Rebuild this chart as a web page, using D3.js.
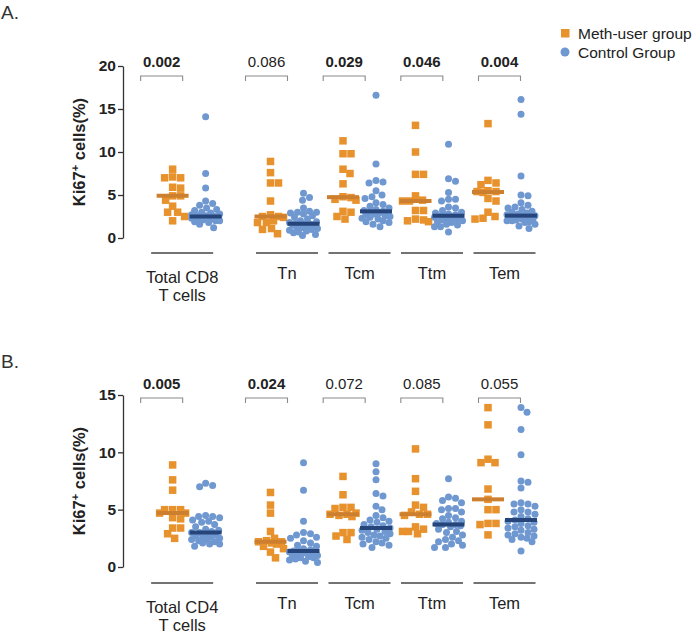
<!DOCTYPE html>
<html>
<head>
<meta charset="utf-8">
<script src="https://cdn.jsdelivr.net/npm/d3@7"></script>
<style>
  html, body { margin: 0; padding: 0; background: #fff; }
  svg { display: block; font-family: "Liberation Sans", Arial, Helvetica, sans-serif; }
</style>
</head>
<body>
<svg id="chart" width="700" height="633"></svg>
<script>
// ---------------- DATA ----------------
const subsetsA = ["Total CD8|T cells", "Tn", "Tcm", "Ttm", "Tem"];
const subsetsB = ["Total CD4|T cells", "Tn", "Tcm", "Ttm", "Tem"];
const seriesNames = ["Meth-user group", "Control Group"];
const pValuesA = ["0.002", "0.086", "0.029", "0.046", "0.004"];
const pValuesB = ["0.005", "0.024", "0.072", "0.085", "0.055"];
const ticksA = [0, 5, 10, 15, 20];
const ticksB = [0, 5, 10, 15];
const yTitle = "Ki67";

// Panel A – Meth-user group (CD8)
const methA_Total = [8.0, 7.1, 7.0, 7.0, 5.9, 5.8, 4.9, 4.9, 4.4, 3.7, 3.0, 3.0, 2.5, 2.0];
const methA_Tn    = [8.9, 7.6, 6.4, 6.4, 4.3, 2.7, 2.5, 2.5, 2.4, 2.0, 1.8, 1.8, 1.1, 1.0, 0.5];
const methA_Tcm   = [11.3, 9.8, 9.8, 8.0, 7.5, 6.3, 4.8, 4.7, 4.5, 4.4, 3.1, 3.0, 2.5, 2.2];
const methA_Ttm   = [13.1, 10.0, 7.4, 7.4, 4.9, 4.4, 4.3, 4.3, 3.2, 3.2, 2.2, 2.1, 2.0, 1.9];
const methA_Tem   = [13.3, 6.7, 6.4, 6.2, 5.5, 5.4, 5.4, 5.3, 4.6, 4.3, 3.0, 2.5, 2.3, 2.2];
// Panel A – Control group (CD8)
const ctrlA_Total = [14.1, 7.5, 5.8, 4.3, 4.0, 3.8, 3.5, 3.3, 3.2, 3.0, 2.9, 2.8, 2.7, 2.6, 2.6, 2.5,
                     2.5, 2.5, 2.4, 2.4, 2.3, 2.3, 2.2, 2.2, 2.1, 2.0, 2.0, 1.9, 1.8, 1.6, 1.2];
const ctrlA_Tn    = [5.2, 4.7, 4.4, 3.5, 3.1, 3.0, 3.0, 2.9, 2.8, 2.6, 2.4, 2.2, 2.0, 1.9, 1.8, 1.7,
                     1.6, 1.6, 1.6, 1.5, 1.5, 1.4, 1.3, 1.2, 1.1, 1.0, 0.9, 0.8, 0.7, 0.6, 0.4, 0.3];
const ctrlA_Tcm   = [16.6, 8.6, 6.7, 6.5, 6.4, 5.5, 5.0, 4.8, 4.6, 4.1, 3.9, 3.7, 3.5, 3.3, 3.2, 3.1,
                     3.0, 3.0, 2.9, 2.8, 2.7, 2.6, 2.5, 2.4, 2.3, 2.2, 2.0, 1.9, 1.8, 1.6, 1.3];
const ctrlA_Ttm   = [10.9, 6.9, 6.6, 5.3, 4.5, 4.5, 4.3, 3.6, 3.5, 3.2, 3.0, 2.9, 2.8, 2.7, 2.6, 2.6,
                     2.5, 2.5, 2.4, 2.3, 2.2, 2.1, 2.0, 1.9, 1.8, 1.6, 1.5, 1.3, 1.3, 0.7];
const ctrlA_Tem   = [16.1, 14.4, 7.2, 5.0, 4.9, 4.1, 3.8, 3.6, 3.5, 3.3, 3.1, 3.0, 2.9, 2.8, 2.7, 2.6,
                     2.6, 2.5, 2.5, 2.4, 2.4, 2.3, 2.2, 2.2, 2.1, 2.0, 2.0, 1.9, 1.8, 1.6, 1.4, 1.1];

// Panel B – Meth-user group (CD4)
const methB_Total = [8.9, 7.6, 6.7, 5.0, 5.0, 5.0, 4.7, 4.7, 4.3, 4.2, 3.4, 3.4, 2.9, 2.5];
const methB_Tn    = [6.5, 5.4, 4.7, 3.1, 2.5, 2.3, 2.2, 2.2, 2.1, 2.0, 1.8, 1.6, 1.3, 0.8];
const methB_Tcm   = [7.9, 6.3, 5.2, 5.2, 5.1, 4.7, 4.6, 4.6, 4.5, 4.4, 3.0, 3.0, 2.7, 2.4];
const methB_Ttm   = [10.3, 7.7, 6.6, 5.4, 5.2, 4.8, 4.6, 4.6, 4.5, 3.5, 3.3, 3.1, 3.1, 2.9];
const methB_Tem   = [13.9, 12.4, 9.4, 9.1, 9.1, 6.8, 5.9, 5.0, 5.0, 3.8, 3.8, 3.7, 2.8];
// Panel B – Control group (CD4)
const ctrlB_Total = [7.3, 7.1, 7.0, 4.5, 4.4, 4.4, 4.3, 4.1, 4.0, 3.9, 3.7, 3.5, 3.3, 3.2, 3.1, 3.0,
                     3.0, 2.9, 2.8, 2.7, 2.6, 2.6, 2.5, 2.4, 2.4, 2.3, 2.2, 2.1, 2.0, 2.0, 1.8];
const ctrlB_Tn    = [9.1, 6.7, 4.0, 3.0, 2.9, 2.8, 2.6, 2.5, 2.3, 2.1, 1.9, 1.8, 1.6, 1.5, 1.4, 1.4,
                     1.4, 1.3, 1.3, 1.2, 1.2, 1.1, 1.0, 1.0, 0.9, 0.8, 0.8, 0.7, 0.6, 0.5, 0.4];
const ctrlB_Tcm   = [9.0, 8.3, 7.6, 6.4, 6.2, 5.3, 5.0, 4.5, 4.3, 4.1, 4.0, 3.9, 3.7, 3.6, 3.5, 3.4,
                     3.3, 3.2, 3.1, 3.0, 2.9, 2.8, 2.7, 2.6, 2.5, 2.4, 2.2, 2.1, 2.0, 1.9, 1.7];
const ctrlB_Ttm   = [7.7, 6.1, 6.0, 5.8, 5.6, 5.1, 5.1, 5.0, 4.8, 4.5, 4.3, 4.2, 4.0, 3.9, 3.8, 3.7,
                     3.7, 3.6, 3.5, 3.3, 3.1, 3.0, 2.8, 2.6, 2.4, 2.3, 2.2, 2.0, 1.9, 1.7, 1.7];
const ctrlB_Tem   = [13.9, 13.5, 12.0, 9.8, 7.5, 7.4, 6.9, 5.6, 5.5, 5.5, 5.3, 5.0, 4.8, 4.8, 4.6, 4.4,
                     4.2, 4.1, 4.0, 3.9, 3.8, 3.6, 3.5, 3.4, 3.3, 3.2, 3.0, 2.9, 2.8, 2.7, 2.6, 2.5,
                     2.4, 2.2, 1.4];

const methA = [methA_Total, methA_Tn, methA_Tcm, methA_Ttm, methA_Tem];
const ctrlA = [ctrlA_Total, ctrlA_Tn, ctrlA_Tcm, ctrlA_Ttm, ctrlA_Tem];
const methB = [methB_Total, methB_Tn, methB_Tcm, methB_Ttm, methB_Tem];
const ctrlB = [ctrlB_Total, ctrlB_Tn, ctrlB_Tcm, ctrlB_Ttm, ctrlB_Tem];

// ---------------- STYLE / LAYOUT ----------------
const COL = {
  meth: "#E8922E", methMed: "#CC7F2E",
  ctrl: "#6F97D0", ctrlMed: "#26457A",
  axis: "#333", text: "#222", bracket: "#8a8a8a", underline: "#444"
};
const svg = d3.select("#chart");

// slot index for each subset (extra gap after "Total")
const slots = [0, 1.35, 2.35, 3.35, 4.35];
const xPair = d3.scaleLinear().domain([1.35, 4.35]).range([287, 504.5]);
const xBracket = d3.scaleLinear().domain([1.35, 4.35]).range([266.5, 499.5]);
const labelShift = [-7, 0, 0, 0, 0];
const colOffset = 16.5;

function swarm(vals, cx, y, diam, half) {
  const pts = vals.map(v => ({ v, y: y(v) })).sort((a, b) => a.y - b.y);
  const placed = [];
  const cands = [0];
  for (let k = 1; k <= half; k++) { cands.push(k, -k); }
  for (const p of pts) {
    let best = 0, bestScore = -Infinity;
    for (const off of cands) {
      let md = Infinity;
      for (const q of placed) {
        const d = Math.hypot(q.x - (cx + off), q.y - p.y);
        if (d < md) md = d;
      }
      if (md >= diam) { best = off; bestScore = Infinity; break; }
      if (md > bestScore) { bestScore = md; best = off; }
    }
    p.x = cx + best;
    placed.push(p);
  }
  return placed;
}

function drawPanel(cfg) {
  const g = svg.append("g");
  const y = d3.scaleLinear().domain([0, cfg.ymax]).range([cfg.y0, cfg.y1]);

  // y axis
  const ax = g.append("g").attr("transform", `translate(${cfg.axisX},0)`)
    .call(d3.axisLeft(y).tickValues(cfg.ticks).tickSize(5).tickSizeOuter(0).tickPadding(2));
  ax.select(".domain").attr("stroke", COL.axis).attr("stroke-width", 1.3);
  ax.selectAll(".tick line").attr("stroke", COL.axis).attr("stroke-width", 1.3);
  ax.selectAll(".tick text").attr("fill", COL.text).attr("font-size", 15.5)
    .attr("font-weight", "bold").attr("font-family", "Liberation Sans, Arial, sans-serif");

  // y title
  const tt = g.append("text")
    .attr("transform", `translate(${cfg.titleX},${(cfg.y0 + cfg.y1) / 2}) rotate(-90)`)
    .attr("text-anchor", "middle").attr("font-size", 16.5).attr("font-weight", "bold")
    .attr("fill", COL.text);
  tt.append("tspan").text(yTitle);
  tt.append("tspan").text("+").attr("font-size", 11).attr("dy", -6);
  tt.append("tspan").text(" cells(%)").attr("font-size", 16.5).attr("dy", 6);

  // panel letter
  g.append("text").attr("x", 1).attr("y", cfg.letterY).text(cfg.letter)
    .attr("font-size", 19).attr("fill", "#333");

  cfg.subsets.forEach((name, i) => {
    const cx = xPair(slots[i]);
    const xm = cx - colOffset, xc = cx + colOffset;

    // bracket and p value
    const bx = xBracket(slots[i]);
    const bw = 21;
    g.append("path")
      .attr("d", `M${bx - bw},${cfg.bracketY + 5}V${cfg.bracketY}H${bx + bw}V${cfg.bracketY + 5}`)
      .attr("fill", "none").attr("stroke", COL.bracket).attr("stroke-width", 1.1);
    const pv = cfg.pvals[i];
    g.append("text").attr("x", bx).attr("y", cfg.bracketY - 9)
      .attr("text-anchor", "middle").attr("font-size", 15)
      .attr("font-weight", (+pv < 0.05) ? "bold" : "normal")
      .attr("fill", COL.text).text(pv);

    // underline and label
    const lx = cx + labelShift[i];
    g.append("line").attr("x1", lx - 31).attr("x2", lx + 31)
      .attr("y1", cfg.underY).attr("y2", cfg.underY)
      .attr("stroke", COL.underline).attr("stroke-width", 1.3);
    const lines = name.split("|");
    lines.forEach((ln, j) => {
      g.append("text").attr("x", lx)
        .attr("y", cfg.underY + (lines.length > 1 ? 29.5 : 26) + j * 18.5)
        .attr("text-anchor", "middle").attr("font-size", 16.5).attr("fill", COL.text).text(ln);
    });

    // meth-user squares
    const sq = 7.5;
    const mp = swarm(cfg.meth[i], xm, y, 7.6, 13);
    g.selectAll(null).data(mp).enter().append("rect")
      .attr("x", d => d.x - sq / 2).attr("y", d => d.y - sq / 2)
      .attr("width", sq).attr("height", sq).attr("fill", COL.meth);
    const mMed = d3.median(cfg.meth[i]);
    g.append("line").attr("x1", xm - 16).attr("x2", xm + 16)
      .attr("y1", y(mMed)).attr("y2", y(mMed))
      .attr("stroke", COL.methMed).attr("stroke-width", 4);

    // control circles
    const cp = swarm(cfg.ctrl[i], xc, y, 6.8, 14);
    g.selectAll(null).data(cp).enter().append("circle")
      .attr("cx", d => d.x).attr("cy", d => d.y).attr("r", 3.5).attr("fill", COL.ctrl);
    const cMed = d3.median(cfg.ctrl[i]);
    g.append("line").attr("x1", xc - 16).attr("x2", xc + 16)
      .attr("y1", y(cMed)).attr("y2", y(cMed))
      .attr("stroke", COL.ctrlMed).attr("stroke-width", 4);
  });
}

drawPanel({
  letter: "A.", letterY: 19, subsets: subsetsA, pvals: pValuesA,
  meth: methA, ctrl: ctrlA, ymax: 20, ticks: ticksA,
  y0: 238, y1: 66, axisX: 123, titleX: 85,
  bracketY: 76, underY: 253
});
drawPanel({
  letter: "B.", letterY: 368, subsets: subsetsB, pvals: pValuesB,
  meth: methB, ctrl: ctrlB, ymax: 15, ticks: ticksB,
  y0: 567, y1: 395, axisX: 123, titleX: 85,
  bracketY: 398, underY: 583
});

// legend
const lg = svg.append("g");
lg.append("rect").attr("x", 561).attr("y", 29).attr("width", 8.5).attr("height", 8.5).attr("fill", COL.meth);
lg.append("text").attr("x", 578).attr("y", 39).attr("font-size", 15.5).attr("fill", COL.text).text(seriesNames[0]);
lg.append("circle").attr("cx", 565).attr("cy", 52).attr("r", 4.5).attr("fill", COL.ctrl);
lg.append("text").attr("x", 578).attr("y", 58).attr("font-size", 15.5).attr("fill", COL.text).text(seriesNames[1]);
</script>
</body>
</html>
